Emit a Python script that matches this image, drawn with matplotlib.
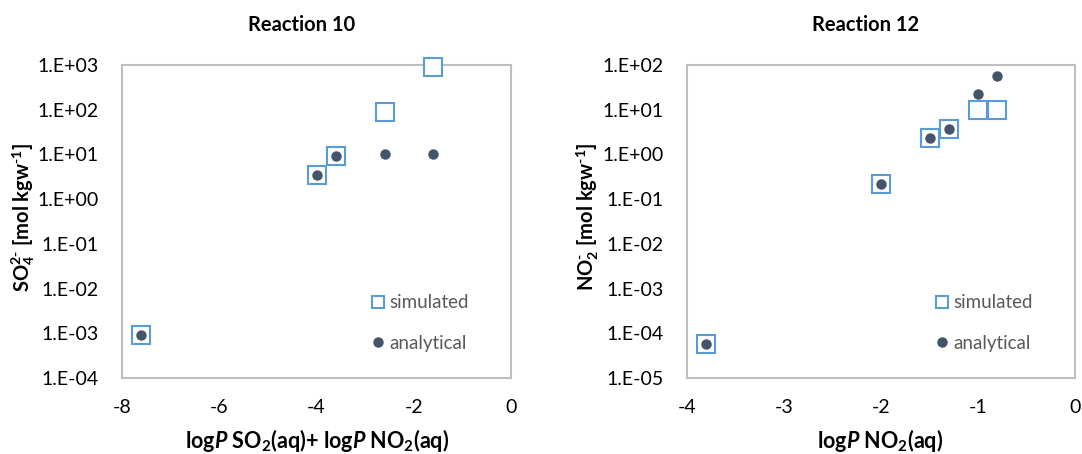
import math
import matplotlib.pyplot as plt
from matplotlib.ticker import FixedLocator, FuncFormatter, NullLocator

plt.rcParams['font.family'] = ['Lato', 'DejaVu Sans']
plt.rcParams['axes.unicode_minus'] = False
plt.rcParams['mathtext.fontset'] = 'custom'
plt.rcParams['mathtext.rm'] = 'Lato:bold'
plt.rcParams['mathtext.it'] = 'Lato:italic'
plt.rcParams['mathtext.bf'] = 'Lato:bold'
plt.rcParams['mathtext.bfit'] = 'Lato:italic:bold'

# Reaction 10 data
r10_x = [-7.6, -4.0, -3.6, -2.6, -1.6]
r10_sim = [9e-4, 3.5, 9.2, 90, 900]
r10_ana = [9e-4, 3.5, 9.3, 10.2, 10.2]

# Reaction 12 data
r12_x = [-3.8, -2.0, -1.5, -1.3, -1.0, -0.8]
r12_sim = [5.8e-5, 0.22, 2.3, 3.7, 10, 10]
r12_ana = [5.8e-5, 0.22, 2.3, 3.7, 23, 58]

blue = '#5B9BD5'
dark = '#44546A'
grey = '#BFBFBF'


def excel_exp(v, pos):
    e = int(round(math.log10(v)))
    return f"1.E{e:+03d}"


def style_axes(ax, xticks, ylo, yhi):
    ax.set_yscale('log')
    ax.set_ylim(10.0 ** ylo, 10.0 ** yhi)
    ax.set_xlim(xticks[0], xticks[-1])
    ax.set_xticks(xticks)
    ax.set_xticklabels([str(t) for t in xticks])
    ax.yaxis.set_major_locator(FixedLocator([10.0 ** e for e in range(ylo, yhi + 1)]))
    ax.yaxis.set_major_formatter(FuncFormatter(excel_exp))
    ax.yaxis.set_minor_locator(NullLocator())
    for s in ax.spines.values():
        s.set_color(grey)
        s.set_linewidth(1.5)
    ax.tick_params(length=0, labelsize=14, colors='black')
    ax.tick_params(axis='x', pad=15)
    ax.tick_params(axis='y', pad=17)


def add_series(ax, x, sim, ana):
    ax.plot(x, sim, linestyle='none', marker='s', markersize=13,
            markerfacecolor='white', markeredgecolor=blue, markeredgewidth=1.5,
            label='simulated', zorder=3, clip_on=False)
    ax.plot(x, ana, linestyle='none', marker='o', markersize=6.5,
            color=dark, label='analytical', zorder=4, clip_on=False)
    leg = ax.legend(loc='lower right', bbox_to_anchor=(0.935, 0.03), frameon=False,
                    fontsize=13.5, labelspacing=1.25, handlelength=0.6,
                    handletextpad=0.3, labelcolor='#595959')
    leg.legend_handles[0].set_markersize(8)


fig = plt.figure(figsize=(10.82, 4.54), dpi=100)
ax1 = fig.add_axes([122 / 1082, 76 / 454, 389 / 1082, 313 / 454])
ax2 = fig.add_axes([687 / 1082, 76 / 454, 388 / 1082, 313 / 454])

add_series(ax1, r10_x, r10_sim, r10_ana)
style_axes(ax1, [-8, -6, -4, -2, 0], -4, 3)
add_series(ax2, r12_x, r12_sim, r12_ana)
style_axes(ax2, [-4, -3, -2, -1, 0], -5, 2)

fig.text(302 / 1082, 1 - 25 / 454, 'Reaction 10', ha='center', va='center',
         fontsize=14.5, fontweight='bold')
fig.text(866 / 1082, 1 - 25 / 454, 'Reaction 12', ha='center', va='center',
         fontsize=14.5, fontweight='bold')

fig.text(23 / 1082, 1 - 217 / 454,
         r'SO$_\mathbf{4}^\mathbf{2\text{-}}$ [mol kgw$^\mathbf{\text{-}1}$]',
         rotation=90, ha='center', va='center', fontsize=14.5, fontweight='bold')
fig.text(588 / 1082, 1 - 217 / 454,
         r'NO$_\mathbf{2}^\mathbf{\text{-}}$ [mol kgw$^\mathbf{\text{-}1}$]',
         rotation=90, ha='center', va='center', fontsize=14.5, fontweight='bold')

fig.text(317 / 1082, 1 - 440 / 454,
         r'log$\boldsymbol{P}$ SO$_\mathbf{2}$(aq)+ log$\boldsymbol{P}$ NO$_\mathbf{2}$(aq)',
         ha='center', va='center', fontsize=15.5, fontweight='bold')
fig.text(880 / 1082, 1 - 440 / 454, r'log$\boldsymbol{P}$ NO$_\mathbf{2}$(aq)',
         ha='center', va='center', fontsize=15.5, fontweight='bold')

fig.savefig('out.png', dpi=100)
